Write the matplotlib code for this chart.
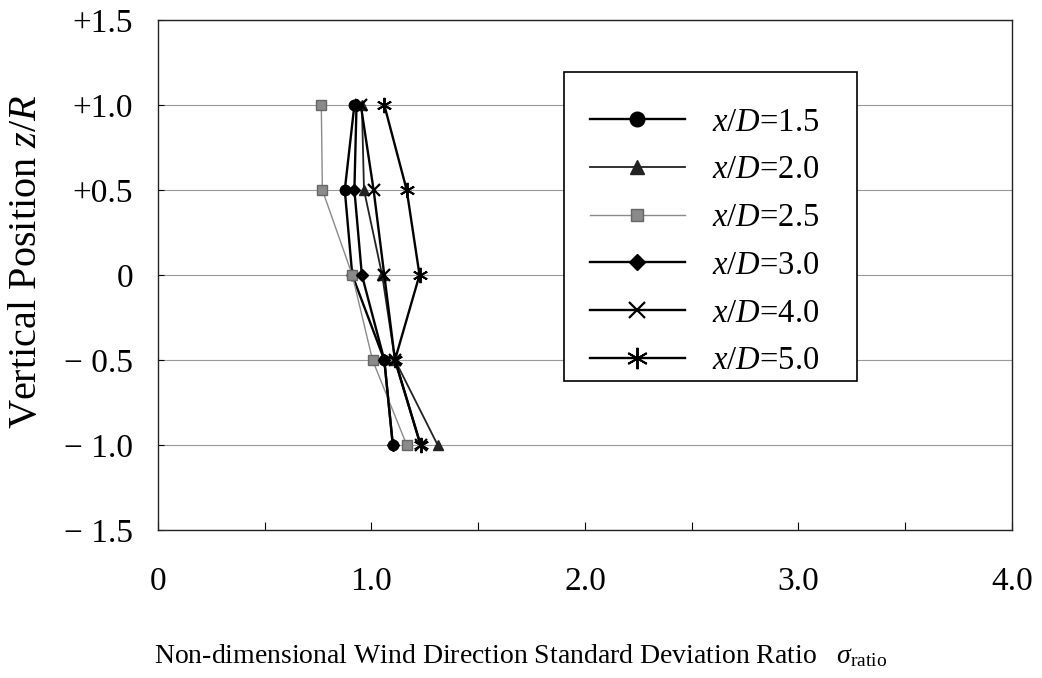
import matplotlib
matplotlib.use("Agg")
import matplotlib.pyplot as plt
from matplotlib.patches import Rectangle

plt.rcParams['font.family'] = ['Liberation Serif', 'DejaVu Serif']
plt.rcParams['mathtext.fontset'] = 'custom'
plt.rcParams['mathtext.rm'] = 'Liberation Serif'
plt.rcParams['mathtext.it'] = 'Liberation Serif:italic'

z_positions = [1.0, 0.5, 0.0, -0.5, -1.0]
series_labels = ["1.5", "2.0", "2.5", "3.0", "4.0", "5.0"]
sigma_15 = [0.92, 0.875, 0.91, 1.06, 1.10]
sigma_20 = [0.955, 0.965, 1.05, 1.11, 1.31]
sigma_25 = [0.765, 0.77, 0.91, 1.005, 1.165]
sigma_30 = [0.93, 0.92, 0.955, 1.06, 1.10]
sigma_40 = [0.95, 1.01, 1.06, 1.11, 1.23]
sigma_50 = [1.06, 1.165, 1.225, 1.11, 1.23]
all_sigma = [sigma_15, sigma_20, sigma_25, sigma_30, sigma_40, sigma_50]

styles = [
    dict(marker='o', color='black', lw=1.7, ms=7.5),
    dict(marker='^', color='#222222', lw=1.3, ms=7),
    dict(marker='s', color='#8a8a8a', lw=1.0, ms=6.5, markeredgecolor='#666666'),
    dict(marker='D', color='black', lw=1.7, ms=6),
    dict(marker='x', color='black', lw=1.7, ms=8, mew=1.6),
    dict(marker=(6, 2, 0), color='black', lw=1.7, ms=11, mew=1.4),
]

fig = plt.figure(figsize=(10.42, 6.78), dpi=100)
ax = fig.add_axes([0.1516, 0.2183, 0.8196, 0.7522])

for lab, vals, st in zip(series_labels, all_sigma, styles):
    ax.plot(vals, z_positions, label=r"$x/D$=" + lab, **st)

ax.set_xlim(0, 4.0)
ax.set_ylim(-1.5, 1.5)
yt = [1.5, 1.0, 0.5, 0.0, -0.5, -1.0, -1.5]
ylabels = ["+1.5", "+1.0", "+0.5", "0", "\u2212 0.5", "\u2212 1.0", "\u2212 1.5"]
ax.set_yticks(yt)
ax.set_yticklabels(ylabels, fontsize=24)
xt = [0, 0.5, 1.0, 1.5, 2.0, 2.5, 3.0, 3.5, 4.0]
xlabels = ["0", "", "1.0", "", "2.0", "", "3.0", "", "4.0"]
ax.set_xticks(xt)
ax.set_xticklabels(xlabels, fontsize=24)
ax.tick_params(axis='x', direction='in', length=6, pad=26, width=0.8)
ax.tick_params(axis='y', direction='in', length=4, pad=18, width=0.8)
ax.yaxis.grid(True, color='#999999', lw=0.8)
ax.set_axisbelow(True)
for sp in ax.spines.values():
    sp.set_color('#222222')
    sp.set_linewidth(1.0)

ax.set_ylabel(r"Vertical Position $z/R$", fontsize=29)
ax.yaxis.set_label_coords(-0.132, 0.525)
ax.set_xlabel(r"Non-dimensional Wind Direction Standard Deviation Ratio   $\sigma_{\rm ratio}$",
              fontsize=20)
ax.xaxis.set_label_coords(0.425, -0.22)

ax.add_patch(Rectangle((0.475, 0.292), 0.343, 0.606, transform=ax.transAxes,
                       facecolor='white', edgecolor='black', lw=1.2, zorder=4))
leg = ax.legend(loc='upper left', bbox_to_anchor=(0.506, 0.829), fontsize=23.5,
                frameon=False, handlelength=2.9, labelspacing=0.527, borderpad=0,
                handletextpad=0.83, markerscale=1.4, borderaxespad=0)
leg.set_zorder(5)

fig.savefig("out.png", dpi=100)
